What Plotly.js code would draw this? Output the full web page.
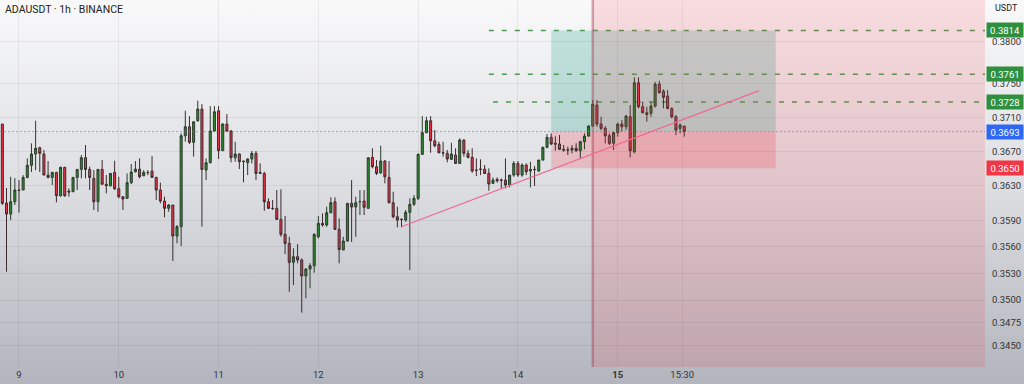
<!DOCTYPE html>
<html><head><meta charset="utf-8">
<script src="https://cdn.plot.ly/plotly-3.0.1.min.js"></script>
<style>
html,body{margin:0;padding:0;background:#fff;}
#chart{width:1024px;height:384px;background:linear-gradient(to bottom,#f9f9fa 0%,#dcdde1 50%,#b2b5bd 100%);}
</style></head><body><div id="chart"></div>
<script>
// ---- data (hourly candles, first candle 2024-09-08 20:00) ----
const firstCandle = Date.UTC(2024, 8, 8, 20, 0);
const openP = [
0.37019,0.36099,0.35973,0.36114,0.36249,0.36249,0.36395,0.36535,0.36667,0.36741,
0.36667,0.36422,0.36395,0.36453,0.36183,0.36512,0.36237,0.36229,0.36395,0.36488,
0.36624,0.36488,0.36384,0.36114,0.36488,0.36315,0.36299,0.36453,0.36264,0.36172,
0.36153,0.36334,0.36460,0.36491,0.36414,0.36453,0.36468,0.36395,0.36249,0.36122,
0.36038,0.36076,0.35722,0.35828,0.36881,0.36987,0.36804,0.37058,0.37196,0.36480,
0.36566,0.36937,0.37176,0.36706,0.37019,0.36937,0.36624,0.36667,0.36585,0.36566,
0.36609,0.36675,0.36453,0.36441,0.36114,0.36038,0.36038,0.35912,0.35741,0.35638,
0.35424,0.35487,0.35450,0.35270,0.35348,0.35385,0.35713,0.35866,0.35847,0.35988,
0.36114,0.35798,0.35563,0.35665,0.36096,0.36053,0.36114,0.36122,0.36038,0.36628,
0.36519,0.36448,0.36585,0.36395,0.36103,0.35942,0.35912,0.35904,0.35992,0.36084,
0.36153,0.36663,0.36917,0.37058,0.36822,0.36780,0.36682,0.36675,0.36605,0.36655,
0.36558,0.36831,0.36675,0.36628,0.36480,0.36491,0.36491,0.36441,0.36326,0.36372,
0.36364,0.36364,0.36307,0.36422,0.36558,0.36422,0.36539,0.36469,0.36488,0.36469,
0.36597,0.36745,0.36862,0.36792,0.36784,0.36722,0.36714,0.36714,0.36734,0.36706,
0.36811,0.36877,0.36995,0.37243,0.37019,0.36968,0.36881,0.36792,0.36917,0.37019,
0.36987,0.37105,0.36694,0.37509,0.37223,0.37152,0.37145,0.37231,0.37493,0.37410,
0.37350,0.37204,0.37105,0.36968,0.36995];
const highP = [
0.37019,0.36272,0.36402,0.36387,0.36364,0.36422,0.36616,0.36792,0.37058,0.36753,
0.36714,0.36585,0.36460,0.36460,0.36519,0.36519,0.36268,0.36395,0.36488,0.36655,
0.36772,0.36519,0.36480,0.36488,0.36597,0.36422,0.36441,0.36589,0.36402,0.36172,
0.36441,0.36550,0.36585,0.36616,0.36480,0.36480,0.36643,0.36402,0.36334,0.36172,
0.36088,0.36076,0.35847,0.36909,0.37176,0.37113,0.37046,0.37295,0.37255,0.36616,
0.37231,0.37231,0.37231,0.37027,0.37137,0.36948,0.36811,0.36675,0.36585,0.36616,
0.36702,0.36702,0.36558,0.36460,0.36153,0.36134,0.36249,0.36257,0.35950,0.35713,
0.35582,0.35630,0.35469,0.35356,0.35413,0.35753,0.35950,0.35980,0.36057,0.36164,
0.36164,0.35923,0.35713,0.36096,0.36364,0.36172,0.36249,0.36249,0.36628,0.36734,
0.36597,0.36764,0.36597,0.36585,0.36229,0.36057,0.35923,0.36019,0.36153,0.36191,
0.36675,0.37113,0.37105,0.37113,0.36948,0.36811,0.36811,0.36714,0.36799,0.36734,
0.36850,0.36839,0.36714,0.36734,0.36616,0.36605,0.36539,0.36500,0.36395,0.36395,
0.36384,0.36616,0.36422,0.36585,0.36585,0.36558,0.36558,0.36577,0.36527,0.36597,
0.36753,0.36901,0.36909,0.36874,0.36889,0.36772,0.36753,0.36772,0.36792,0.36822,
0.36909,0.37007,0.37303,0.37303,0.37105,0.36995,0.36909,0.36929,0.37034,0.37066,
0.37125,0.37243,0.37573,0.37573,0.37283,0.37223,0.37283,0.37520,0.37533,0.37430,
0.37422,0.37215,0.37125,0.37027,0.36995];
const lowP = [
0.36076,0.35318,0.35904,0.36076,0.35988,0.36249,0.36384,0.36457,0.36480,0.36457,
0.36422,0.36384,0.36307,0.36107,0.36172,0.36172,0.36172,0.36229,0.36249,0.36384,
0.36384,0.36249,0.36019,0.35999,0.36315,0.36211,0.36287,0.36249,0.36153,0.36019,
0.36153,0.36318,0.36453,0.36384,0.36410,0.36422,0.36395,0.36134,0.36096,0.35935,
0.35999,0.35439,0.35638,0.35608,0.36811,0.36784,0.36636,0.37046,0.35828,0.36364,
0.36558,0.36929,0.36609,0.36706,0.36929,0.36570,0.36577,0.36491,0.36338,0.36422,
0.36558,0.36364,0.36441,0.36010,0.36030,0.36019,0.35904,0.35713,0.35517,0.35093,
0.35168,0.35413,0.34860,0.35020,0.35131,0.35307,0.35695,0.35828,0.35828,0.35980,
0.35790,0.35413,0.35563,0.35657,0.35654,0.35713,0.35961,0.35961,0.36038,0.36500,
0.36422,0.36434,0.36326,0.36096,0.35923,0.35821,0.35821,0.35885,0.35337,0.36065,
0.36134,0.36655,0.36910,0.36682,0.36745,0.36675,0.36636,0.36570,0.36597,0.36550,
0.36550,0.36636,0.36616,0.36448,0.36410,0.36422,0.36434,0.36241,0.36318,0.36334,
0.36268,0.36268,0.36280,0.36402,0.36402,0.36402,0.36422,0.36280,0.36295,0.36460,
0.36589,0.36734,0.36772,0.36706,0.36714,0.36694,0.36655,0.36675,0.36694,0.36616,
0.36722,0.36870,0.36987,0.36987,0.36948,0.36792,0.36772,0.36714,0.36870,0.36929,
0.36948,0.36628,0.36675,0.37204,0.37145,0.37046,0.37105,0.37215,0.37382,0.37204,
0.37192,0.37086,0.36889,0.36910,0.36870];
const closeP = [
0.36096,0.35973,0.36114,0.36249,0.36245,0.36395,0.36535,0.36667,0.36734,0.36675,
0.36422,0.36395,0.36453,0.36183,0.36512,0.36183,0.36226,0.36395,0.36488,0.36624,
0.36488,0.36395,0.36114,0.36488,0.36315,0.36299,0.36441,0.36264,0.36172,0.36145,
0.36334,0.36457,0.36491,0.36402,0.36453,0.36451,0.36395,0.36249,0.36122,0.36038,
0.36076,0.35722,0.35828,0.36881,0.36987,0.36804,0.37046,0.37196,0.36488,0.36566,
0.36937,0.37164,0.36706,0.37019,0.36937,0.36624,0.36667,0.36577,0.36581,0.36609,
0.36675,0.36441,0.36441,0.36114,0.36038,0.36036,0.35912,0.35741,0.35638,0.35424,
0.35487,0.35450,0.35270,0.35348,0.35385,0.35741,0.35866,0.35847,0.35988,0.36103,
0.35798,0.35568,0.35665,0.36096,0.36053,0.36103,0.36116,0.36050,0.36624,0.36519,
0.36441,0.36585,0.36402,0.36103,0.35942,0.35904,0.35910,0.35992,0.36084,0.36153,
0.36663,0.36917,0.37058,0.36822,0.36764,0.36682,0.36680,0.36609,0.36667,0.36558,
0.36831,0.36675,0.36628,0.36469,0.36478,0.36489,0.36441,0.36318,0.36364,0.36356,
0.36362,0.36307,0.36422,0.36558,0.36422,0.36539,0.36460,0.36488,0.36486,0.36597,
0.36745,0.36862,0.36784,0.36784,0.36722,0.36714,0.36712,0.36734,0.36706,0.36811,
0.36877,0.36995,0.37251,0.37019,0.36968,0.36881,0.36792,0.36917,0.37019,0.36987,
0.37113,0.36706,0.37509,0.37223,0.37152,0.37133,0.37231,0.37493,0.37390,0.37335,
0.37204,0.37105,0.36948,0.37007,0.36930];

const yTickVals = [0.3450,0.3475,0.3500,0.3530,0.3560,0.3590,0.3630,0.3670,0.3710,0.3750,0.3800];
const yTickText = ['0.3450','0.3475','0.3500','0.3530','0.3560','0.3590','0.3630','0.3670','0.3710','0.3750','0.3800'];
const xTickVals = ['2024-09-09 00:00','2024-09-10 00:00','2024-09-11 00:00','2024-09-12 00:00','2024-09-13 00:00','2024-09-14 00:00','2024-09-15 00:00','2024-09-15 15:30'];
const xTickText = ['9','10','11','12','13','14','<b>15</b>','15:30'];

// position tool & drawings
const targetLevels = [0.3814, 0.3761, 0.3728];
const targetStart = ['2024-09-13 17:00','2024-09-13 17:00','2024-09-13 18:00'];
const entryPrice = 0.3693;
const stopPrice = 0.3650;
const boxStart = '2024-09-14 08:00', boxEnd = '2024-09-16 14:00';
const markerTime = '2024-09-14 18:00';
const trendX = ['2024-09-12 20:00','2024-09-16 10:00'];
const trendY = [0.35828, 0.37415];
const xRange = ['2024-09-08 19:26','2024-09-18 16:20'];
const yRange = [0.34262, 0.38511];

function pad(n){return (n<10?'0':'')+n;}
function fmt(ms){const d=new Date(ms);return d.getUTCFullYear()+'-'+pad(d.getUTCMonth()+1)+'-'+pad(d.getUTCDate())+' '+pad(d.getUTCHours())+':'+pad(d.getUTCMinutes());}
const times = openP.map((_,i)=>fmt(firstCandle + i*3600000));

const FONT = 'Roboto, "DejaVu Sans", sans-serif';
const farRight = '2024-09-25 00:00';

const trace = {
  type:'candlestick', x:times, open:openP, high:highP, low:lowP, close:closeP,
  increasing:{line:{color:'#2b3b2b',width:1}, fillcolor:'#2f8a30'},
  decreasing:{line:{color:'#3b2b2d',width:1}, fillcolor:'#ef3448'},
  hoverinfo:'skip'
};

const shapes = [];
shapes.push({type:'rect',xref:'x',yref:'y',x0:boxStart,x1:boxEnd,y0:entryPrice,y1:targetLevels[0],fillcolor:'rgba(8,153,129,0.22)',line:{width:0},layer:'below'});
shapes.push({type:'rect',xref:'x',yref:'y',x0:boxStart,x1:boxEnd,y0:stopPrice,y1:entryPrice,fillcolor:'rgba(242,54,69,0.22)',line:{width:0},layer:'below'});
targetLevels.forEach((v,i)=>{
  shapes.push({type:'line',xref:'x',yref:'y',x0:targetStart[i],x1:farRight,y0:v,y1:v,line:{color:'#4e9a52',width:1.5,dash:'5px,8px'},layer:'below'});
});
shapes.push({type:'line',xref:'paper',yref:'y',x0:0,x1:1,y0:entryPrice,y1:entryPrice,line:{color:'rgba(80,115,245,0.55)',width:1,dash:'2px,2px'},layer:'above'});
shapes.push({type:'rect',xref:'x',yref:'paper',x0:markerTime,x1:farRight,y0:0,y1:1,fillcolor:'rgba(242,54,69,0.15)',line:{width:0},layer:'above'});
shapes.push({type:'line',xref:'x',yref:'paper',x0:markerTime,x1:markerTime,y0:0,y1:1,line:{color:'rgba(170,60,85,0.45)',width:2.5},layer:'above'});
shapes.push({type:'line',xref:'x',yref:'y',x0:trendX[0],x1:trendX[1],y0:trendY[0],y1:trendY[1],line:{color:'#f06892',width:1.2},layer:'above'});

const labelLevels = [
  {v:targetLevels[0], c:'#2f8f3e'},
  {v:targetLevels[1], c:'#2f8f3e'},
  {v:targetLevels[2], c:'#2f8f3e'},
  {v:entryPrice, c:'#2f66f2'},
  {v:stopPrice, c:'#f23645'}
];
const annotations = labelLevels.map(o=>({
  xref:'paper', yref:'y', x:1, y:Math.log10(o.v), xanchor:'left', yanchor:'middle', xshift:1,
  text:o.v.toFixed(4), showarrow:false, bgcolor:o.c, width:34, height:12, borderpad:1,
  font:{family:FONT,size:9.5,color:'#ffffff'}
}));
annotations.push({xref:'paper',yref:'paper',x:0,y:1,xanchor:'left',yanchor:'top',xshift:3,yshift:-1,
  text:'ADAUSDT · 1h · BINANCE',showarrow:false,font:{family:FONT,size:10.5,color:'#222'}});
annotations.push({xref:'paper',yref:'paper',x:1,y:1,xanchor:'left',yanchor:'top',xshift:8,yshift:-1,
  text:'USDT',showarrow:false,font:{family:FONT,size:9,color:'#222'}});

const layout = {
  width:1024, height:384,
  margin:{l:0,r:39,t:0,b:17,pad:0},
  paper_bgcolor:'rgba(0,0,0,0)', plot_bgcolor:'rgba(0,0,0,0)',
  showlegend:false, hovermode:false, dragmode:false,
  xaxis:{type:'date', range:xRange, rangeslider:{visible:false}, tickvals:xTickVals, ticktext:xTickText,
    showgrid:true, gridcolor:'rgba(0,0,0,0.06)', gridwidth:1, ticks:'', zeroline:false, showline:false,
    tickfont:{family:FONT,size:9.5,color:'#333'}, fixedrange:true},
  yaxis:{type:'log', side:'right', range:[Math.log10(yRange[0]),Math.log10(yRange[1])],
    tickvals:yTickVals, ticktext:yTickText, showgrid:true, gridcolor:'rgba(0,0,0,0.06)', gridwidth:1,
    ticks:'outside', ticklen:4, tickcolor:'rgba(0,0,0,0)', zeroline:false, showline:false,
    tickfont:{family:FONT,size:9.5,color:'#333'}, fixedrange:true},
  shapes:shapes, annotations:annotations
};

Plotly.newPlot('chart',[trace],layout,{staticPlot:true,displayModeBar:false});
</script></body></html>
